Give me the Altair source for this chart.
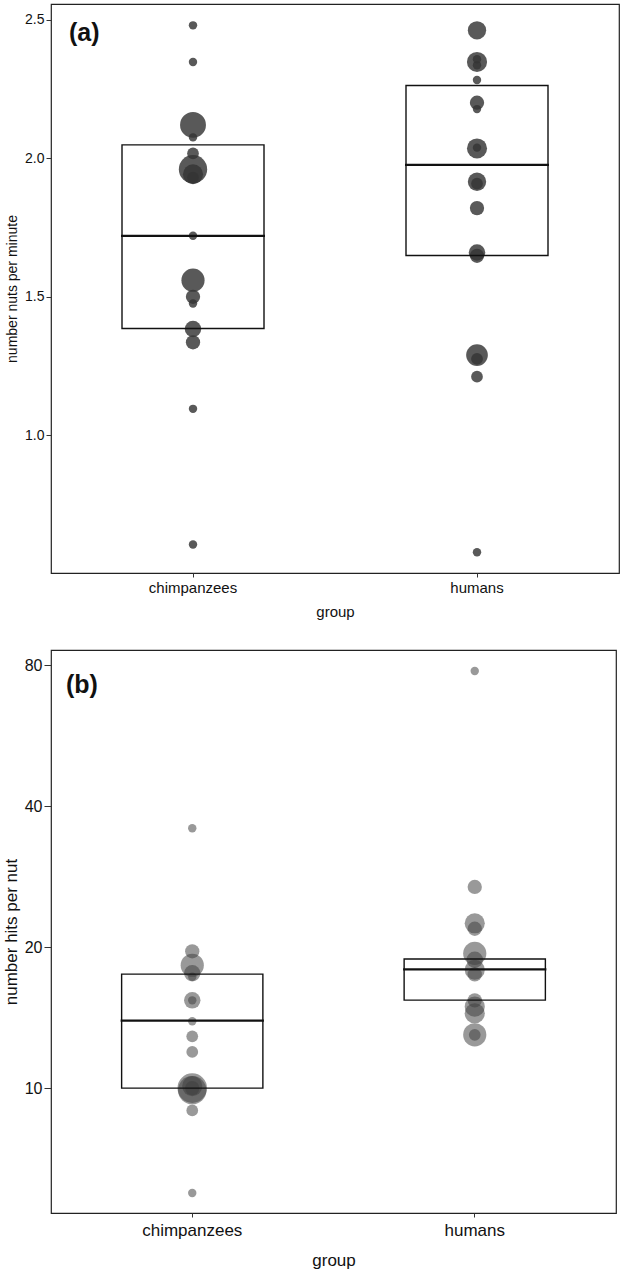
import altair as alt
import pandas as pd

groups = ["chimpanzees", "humans"]

# ---- panel (a): number of nuts per minute ----
a_chimp_rate = [2.479, 2.347, 2.12, 2.075, 2.017, 1.96, 1.942, 1.93, 1.72,
                1.56, 1.50, 1.476, 1.384, 1.336, 1.096, 0.607]
a_chimp_n = [1, 1, 10, 1, 2, 12, 6, 2, 1, 8, 3, 1, 4, 3, 1, 1]
a_human_rate = [2.461, 2.347, 2.357, 2.335, 2.282, 2.20, 2.177, 2.035, 2.038,
                1.915, 1.908, 1.82, 1.66, 1.648, 1.29, 1.276, 1.212, 0.579]
a_human_n = [5, 6, 1, 1, 1, 3, 1, 6, 1, 5, 2, 3, 4, 3, 7, 2, 2, 1]
a_q1 = [1.386, 1.649]
a_median = [1.72, 1.976]
a_q3 = [2.048, 2.262]

# ---- panel (b): number of hits per nut ----
b_chimp_hits = [35.9, 19.6, 18.3, 17.6, 17.3, 15.4, 15.4, 13.9, 12.9, 11.95,
                10.0, 9.9, 10.1, 10.0, 8.96, 5.97]
b_chimp_n = [1, 3, 8, 4, 1, 4, 1, 1, 2, 2, 13, 12, 6, 3, 2, 1]
b_human_hits = [77.8, 26.9, 22.5, 21.9, 19.4, 18.8, 17.9, 17.5, 15.4, 14.93,
                14.45, 13.0, 13.0]
b_human_n = [1, 3, 6, 3, 8, 4, 6, 3, 3, 6, 6, 8, 2]
b_q1 = [10.0, 15.42]
b_median = [13.94, 17.94]
b_q3 = [17.52, 18.87]


def points_df(c_vals, c_n, h_vals, h_n):
    return pd.DataFrame({
        "group": [groups[0]] * len(c_vals) + [groups[1]] * len(h_vals),
        "value": c_vals + h_vals,
        "n": c_n + h_n,
    })


def box_df(q1, med, q3):
    return pd.DataFrame({"group": groups, "q1": q1, "median": med, "q3": q3})


FONT = "Liberation Sans"


def panel(pts, box, letter, ytitle, yscale, yvalues, yformat, width, height,
          ylab_fs, ytit_fs, xfs, ytick, ytitle_pad, xlab_pad, xtitle_pad,
          color, opacity, letter_x, letter_y):
    xenc = alt.X(
        "group:N",
        scale=alt.Scale(domain=groups, paddingInner=0, paddingOuter=0),
        axis=alt.Axis(title="group", labelAngle=0, labelFontSize=xfs,
                      titleFontSize=xfs, titleFontWeight="normal",
                      tickSize=4, labelPadding=xlab_pad,
                      titlePadding=xtitle_pad,
                      domain=False, grid=False, tickColor="#333",
                      labelColor="#111", titleColor="#111", labelFont=FONT,
                      titleFont=FONT),
    )
    yaxis = alt.Axis(title=ytitle, values=yvalues, format=yformat,
                     labelFontSize=ylab_fs, titleFontSize=ytit_fs,
                     titleFontWeight="normal", tickSize=ytick, labelPadding=2,
                     titlePadding=ytitle_pad, domain=False, grid=False,
                     tickColor="#333", labelColor="#111", titleColor="#111",
                     labelFont=FONT, titleFont=FONT)

    pts_layer = alt.Chart(pts).mark_circle(color=color, opacity=opacity).encode(
        x=xenc,
        y=alt.Y("value:Q", scale=yscale, axis=yaxis),
        size=alt.Size("n:Q", scale=alt.Scale(domain=[1, 12], range=[71, 804]),
                      legend=None),
    )
    boxes = alt.Chart(box).mark_bar(
        width=alt.RelativeBandSize(0.5), fillOpacity=0, stroke="#111",
        strokeWidth=1.4,
    ).encode(x=alt.X("group:N"), y=alt.Y("q1:Q"), y2="q3:Q")
    med = alt.Chart(box).mark_tick(
        size=width * 0.25 + 2, thickness=2.2, color="#111", opacity=1,
    ).encode(x=alt.X("group:N"), y=alt.Y("median:Q"))
    lab = alt.Chart(pd.DataFrame({"t": [letter]})).mark_text(
        fontSize=25, fontWeight="bold", align="left", baseline="middle",
        font=FONT, color="#111",
    ).encode(text="t:N", x=alt.value(letter_x), y=alt.value(letter_y))
    return alt.layer(pts_layer, boxes, med, lab).properties(
        width=width, height=height)


panel_a = panel(
    points_df(a_chimp_rate, a_chimp_n, a_human_rate, a_human_n),
    box_df(a_q1, a_median, a_q3),
    "(a)", "number nuts per minute",
    alt.Scale(domain=[0.504, 2.556], nice=False, zero=False),
    [1.0, 1.5, 2.0, 2.5], ".1f", 568, 569, 14, 14, 15, 5, 5, 3, 9,
    "#353535", 0.82, 18, 29,
)

panel_b = panel(
    points_df(b_chimp_hits, b_chimp_n, b_human_hits, b_human_n),
    box_df(b_q1, b_median, b_q3),
    "(b)", "number hits per nut",
    alt.Scale(type="log", domain=[5.41, 86.3], nice=False),
    [10, 20, 40, 80], "d", 565, 563, 16, 17, 17, 7, 4, 5, 14,
    "#3f3f3f", 0.53, 15, 35,
)

chart = alt.concat(panel_a, panel_b, columns=1, spacing=29).properties(
    padding={"left": 1, "top": 3, "right": 0, "bottom": 0},
    background="white",
).configure_view(stroke="#222", strokeWidth=1.2)

chart.save("out.html", embed_options={"renderer": "svg", "actions": False})
